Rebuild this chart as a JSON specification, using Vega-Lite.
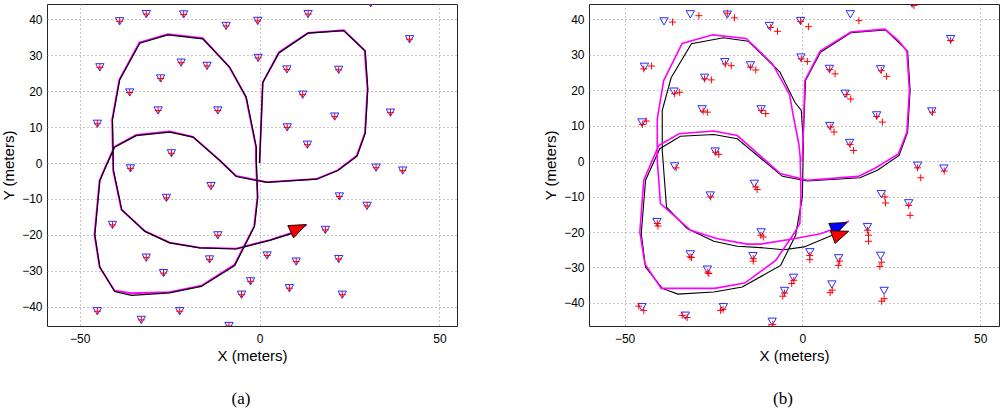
{
  "$schema": "https://vega.github.io/schema/vega-lite/v6.json",
  "background": "white",
  "padding": {"left": 1, "top": 3, "right": 0, "bottom": 0},
  "spacing": 85,
  "config": {
    "view": {"stroke": "#262626", "strokeWidth": 1},
    "axis": {
      "labelFont": "Liberation Sans", "labelFontSize": 12, "labelColor": "#000",
      "titleFont": "Liberation Sans", "titleFontSize": 15, "titleFontWeight": "normal", "titleColor": "#000",
      "grid": true, "gridDash": [1, 3], "gridColor": "#8c8c8c", "gridWidth": 1,
      "domain": false, "ticks": false
    },
    "axisX": {"labelPadding": 7, "titlePadding": 4},
    "axisY": {"labelPadding": 5, "titlePadding": 5}
  },
  "datasets": {
    "lm": [
      {"x": -38.9, "y": 39.4}, {"x": -31.5, "y": 41.4}, {"x": -21.1, "y": 41.3}, {"x": -9.3, "y": 38.1},
      {"x": -0.5, "y": 39.5}, {"x": 13.5, "y": 41.4}, {"x": 30.9, "y": 44.4}, {"x": 41.7, "y": 34.4},
      {"x": -44.4, "y": 26.6}, {"x": -21.8, "y": 27.9}, {"x": -14.6, "y": 27.0}, {"x": -0.4, "y": 29.2},
      {"x": 7.6, "y": 26.0}, {"x": 22.0, "y": 25.9}, {"x": -27.5, "y": 23.5}, {"x": -36.1, "y": 19.6},
      {"x": 12.0, "y": 19.0}, {"x": -28.2, "y": 14.6}, {"x": -11.6, "y": 14.6}, {"x": 36.4, "y": 14.0},
      {"x": 20.9, "y": 12.9}, {"x": -45.1, "y": 10.9}, {"x": 7.7, "y": 9.9}, {"x": 13.3, "y": 5.1},
      {"x": -24.5, "y": 2.7}, {"x": -35.9, "y": -1.5}, {"x": 32.4, "y": -1.3}, {"x": 39.8, "y": -2.1},
      {"x": -13.5, "y": -6.4}, {"x": -25.9, "y": -9.7}, {"x": 22.2, "y": -9.3}, {"x": 29.9, "y": -11.9},
      {"x": -40.9, "y": -17.2}, {"x": -11.6, "y": -20.1}, {"x": 18.3, "y": -18.6}, {"x": -31.5, "y": -26.3},
      {"x": -13.9, "y": -26.8}, {"x": 2.1, "y": -25.7}, {"x": 10.2, "y": -27.4}, {"x": 22.0, "y": -26.7},
      {"x": -26.7, "y": -30.6}, {"x": -2.5, "y": -32.9}, {"x": 8.3, "y": -34.8}, {"x": -5.0, "y": -36.6},
      {"x": 23.0, "y": -36.6}, {"x": -45.1, "y": -41.2}, {"x": -32.9, "y": -43.6}, {"x": -22.2, "y": -41.2},
      {"x": -8.5, "y": -45.3}
    ],
    "est_b": [
      {"x": -36.5, "y": 39.2}, {"x": -29.1, "y": 41.0}, {"x": -21.1, "y": 41.7}, {"x": -19.1, "y": 40.4},
      {"x": -8.9, "y": 37.7}, {"x": -7.0, "y": 36.6}, {"x": -0.5, "y": 39.4}, {"x": 1.7, "y": 37.9},
      {"x": 15.9, "y": 39.6}, {"x": 31.4, "y": 43.9}, {"x": 41.7, "y": 34.0},
      {"x": -44.6, "y": 26.0}, {"x": -42.4, "y": 26.8}, {"x": -21.6, "y": 27.4}, {"x": -20.0, "y": 26.9},
      {"x": -14.6, "y": 26.5}, {"x": -13.1, "y": 25.7}, {"x": -0.3, "y": 28.8}, {"x": 1.4, "y": 28.1},
      {"x": 7.7, "y": 25.8}, {"x": 9.2, "y": 24.6}, {"x": 22.2, "y": 25.5}, {"x": 23.7, "y": 23.9},
      {"x": -27.5, "y": 23.2}, {"x": -25.6, "y": 22.9}, {"x": -35.9, "y": 19.0}, {"x": -34.5, "y": 19.4},
      {"x": 12.5, "y": 18.8}, {"x": 13.6, "y": 17.5}, {"x": -27.9, "y": 14.1}, {"x": -26.7, "y": 13.8},
      {"x": -11.5, "y": 14.3}, {"x": -10.3, "y": 13.4}, {"x": 36.6, "y": 13.8}, {"x": 20.9, "y": 12.6},
      {"x": 22.5, "y": 11.0}, {"x": -45.0, "y": 10.3}, {"x": -43.9, "y": 11.3}, {"x": 8.0, "y": 9.6},
      {"x": 8.9, "y": 8.2}, {"x": 13.4, "y": 4.7}, {"x": 14.4, "y": 3.0}, {"x": -24.4, "y": 2.5},
      {"x": -23.5, "y": 1.9}, {"x": -35.5, "y": -1.9}, {"x": 32.4, "y": -1.9}, {"x": 33.3, "y": -4.7},
      {"x": 39.9, "y": -2.8}, {"x": -13.1, "y": -7.3}, {"x": -12.7, "y": -8.0}, {"x": -25.8, "y": -10.1},
      {"x": 23.2, "y": -10.1}, {"x": 23.4, "y": -11.8}, {"x": 29.9, "y": -12.5}, {"x": 30.3, "y": -15.3},
      {"x": -40.8, "y": -17.6}, {"x": -40.6, "y": -18.3}, {"x": -11.7, "y": -20.9}, {"x": -11.0, "y": -21.4},
      {"x": 18.3, "y": -19.5}, {"x": 18.6, "y": -20.9}, {"x": 18.6, "y": -22.6}, {"x": -31.6, "y": -27.0},
      {"x": -31.2, "y": -27.2}, {"x": -13.8, "y": -27.5}, {"x": -13.8, "y": -28.2}, {"x": 2.1, "y": -26.6},
      {"x": 2.1, "y": -27.8}, {"x": 10.5, "y": -28.2}, {"x": 10.1, "y": -29.4}, {"x": 22.3, "y": -28.5},
      {"x": 21.8, "y": -29.7}, {"x": -26.6, "y": -31.3}, {"x": -26.3, "y": -31.7}, {"x": -2.4, "y": -33.6},
      {"x": -3.0, "y": -34.5}, {"x": 8.4, "y": -36.4}, {"x": 7.8, "y": -37.1}, {"x": -5.0, "y": -37.2},
      {"x": -5.5, "y": -38.1}, {"x": 23.0, "y": -38.8}, {"x": 22.3, "y": -39.5}, {"x": -46.0, "y": -40.9},
      {"x": -44.6, "y": -42.1}, {"x": -33.8, "y": -43.5}, {"x": -32.4, "y": -44.1}, {"x": -22.3, "y": -41.8},
      {"x": -23.0, "y": -42.1}, {"x": -8.3, "y": -46.1}, {"x": -9.4, "y": -46.8}
    ],
    "path_a": [
      {"i": 0, "x": 0, "y": 0}, {"i": 1, "x": 0.9, "y": 22.4}, {"i": 2, "x": 5.4, "y": 30.6},
      {"i": 3, "x": 13.5, "y": 36.1}, {"i": 4, "x": 23.4, "y": 36.8}, {"i": 5, "x": 29.4, "y": 31.1},
      {"i": 6, "x": 30.1, "y": 20.6}, {"i": 7, "x": 29.4, "y": 8.3}, {"i": 8, "x": 27.1, "y": 1.9},
      {"i": 9, "x": 21.8, "y": -2.1}, {"i": 10, "x": 15.9, "y": -4.5}, {"i": 11, "x": 2.0, "y": -5.4},
      {"i": 12, "x": -6.5, "y": -3.75}, {"i": 13, "x": -11.1, "y": 0.7}, {"i": 14, "x": -18.5, "y": 7.2},
      {"i": 15, "x": -25.0, "y": 8.6}, {"i": 16, "x": -34.3, "y": 7.6}, {"i": 17, "x": -40.3, "y": 4.4},
      {"i": 18, "x": -43.0, "y": -1.6}, {"i": 19, "x": -44.4, "y": -4.9}, {"i": 20, "x": -45.8, "y": -19.9},
      {"i": 21, "x": -44.4, "y": -28.9}, {"i": 22, "x": -40.3, "y": -35.7}, {"i": 23, "x": -35.6, "y": -36.8},
      {"i": 24, "x": -25.0, "y": -36.1}, {"i": 25, "x": -16.2, "y": -34.3}, {"i": 26, "x": -6.9, "y": -28.5},
      {"i": 27, "x": -1.4, "y": -17.6}, {"i": 28, "x": -0.5, "y": -9.5}, {"i": 29, "x": -0.9, "y": 0.7},
      {"i": 30, "x": -0.9, "y": 4.4}, {"i": 31, "x": -3.7, "y": 18.3}, {"i": 32, "x": -8.3, "y": 26.6},
      {"i": 33, "x": -15.8, "y": 34.5}, {"i": 34, "x": -25.5, "y": 35.6}, {"i": 35, "x": -33.3, "y": 33.3},
      {"i": 36, "x": -38.9, "y": 23.1}, {"i": 37, "x": -40.9, "y": 12.0}, {"i": 38, "x": -40.6, "y": -2.1},
      {"i": 39, "x": -38.3, "y": -13.0}, {"i": 40, "x": -31.9, "y": -19.0}, {"i": 41, "x": -25.0, "y": -22.2},
      {"i": 42, "x": -16.7, "y": -23.6}, {"i": 43, "x": -6.5, "y": -23.9}, {"i": 44, "x": 2.8, "y": -21.5},
      {"i": 45, "x": 9.3, "y": -19.5}, {"i": 46, "x": 11.0, "y": -18.9}
    ],
    "path_a_est": [
      {"i": 0, "x": 0, "y": 0}, {"i": 1, "x": 0.9, "y": 22.4}, {"i": 2, "x": 5.4, "y": 30.8},
      {"i": 3, "x": 13.5, "y": 36.2}, {"i": 4, "x": 23.4, "y": 36.9}, {"i": 5, "x": 29.2, "y": 31.3},
      {"i": 6, "x": 30.0, "y": 20.6}, {"i": 7, "x": 29.3, "y": 8.3}, {"i": 8, "x": 27.0, "y": 2.0},
      {"i": 9, "x": 21.7, "y": -2.0}, {"i": 10, "x": 15.9, "y": -4.4}, {"i": 11, "x": 2.0, "y": -5.3},
      {"i": 12, "x": -6.5, "y": -3.6}, {"i": 13, "x": -11.1, "y": 0.8}, {"i": 14, "x": -18.5, "y": 7.3},
      {"i": 15, "x": -25.0, "y": 8.8}, {"i": 16, "x": -34.3, "y": 7.8}, {"i": 17, "x": -40.4, "y": 4.5},
      {"i": 18, "x": -43.1, "y": -1.6}, {"i": 19, "x": -44.5, "y": -4.9}, {"i": 20, "x": -45.9, "y": -19.9},
      {"i": 21, "x": -44.5, "y": -28.9}, {"i": 22, "x": -40.3, "y": -35.5}, {"i": 23, "x": -35.6, "y": -36.2},
      {"i": 24, "x": -25.0, "y": -35.9}, {"i": 25, "x": -16.2, "y": -34.1}, {"i": 26, "x": -7.0, "y": -28.3},
      {"i": 27, "x": -1.5, "y": -17.6}, {"i": 28, "x": -0.6, "y": -9.5}, {"i": 29, "x": -1.0, "y": 0.7},
      {"i": 30, "x": -1.0, "y": 4.4}, {"i": 31, "x": -3.8, "y": 18.3}, {"i": 32, "x": -8.4, "y": 26.7},
      {"i": 33, "x": -15.8, "y": 34.7}, {"i": 34, "x": -25.5, "y": 35.8}, {"i": 35, "x": -33.4, "y": 33.5},
      {"i": 36, "x": -39.0, "y": 23.1}, {"i": 37, "x": -41.0, "y": 12.0}, {"i": 38, "x": -40.7, "y": -2.1},
      {"i": 39, "x": -38.4, "y": -13.0}, {"i": 40, "x": -31.9, "y": -18.9}, {"i": 41, "x": -25.0, "y": -22.1},
      {"i": 42, "x": -16.7, "y": -23.5}, {"i": 43, "x": -6.5, "y": -23.8}, {"i": 44, "x": 2.8, "y": -21.4},
      {"i": 45, "x": 9.3, "y": -19.3}, {"i": 46, "x": 13.1, "y": -17.2}
    ],
    "path_b_true": [
      {"i": 0, "x": 0, "y": 0}, {"i": 1, "x": 0.9, "y": 22.7}, {"i": 2, "x": 5.1, "y": 30.7},
      {"i": 3, "x": 13.6, "y": 36.2}, {"i": 4, "x": 23.4, "y": 37.0}, {"i": 5, "x": 29.6, "y": 31.0},
      {"i": 6, "x": 30.3, "y": 19.9}, {"i": 7, "x": 29.6, "y": 8.2}, {"i": 8, "x": 27.2, "y": 1.6},
      {"i": 9, "x": 21.1, "y": -2.6}, {"i": 10, "x": 16.2, "y": -4.7}, {"i": 11, "x": 1.4, "y": -5.6},
      {"i": 12, "x": -5.6, "y": -4.3}, {"i": 13, "x": -18.3, "y": 6.3}, {"i": 14, "x": -24.9, "y": 7.5},
      {"i": 15, "x": -34.3, "y": 7.0}, {"i": 16, "x": -40.1, "y": 3.5}, {"i": 17, "x": -44.1, "y": -5.4},
      {"i": 18, "x": -45.3, "y": -20.5}, {"i": 19, "x": -44.1, "y": -29.9}, {"i": 20, "x": -39.4, "y": -35.9},
      {"i": 21, "x": -35.0, "y": -37.5}, {"i": 22, "x": -24.9, "y": -36.9}, {"i": 23, "x": -16.9, "y": -35.5},
      {"i": 24, "x": -6.1, "y": -29.4}, {"i": 25, "x": -1.9, "y": -20.9}, {"i": 26, "x": 0.0, "y": -10.1},
      {"i": 27, "x": 0.3, "y": 4.9}, {"i": 28, "x": -0.3, "y": 14.3}, {"i": 29, "x": -2.1, "y": 16.6},
      {"i": 30, "x": -6.3, "y": 25.1}, {"i": 31, "x": -15.2, "y": 33.8}, {"i": 32, "x": -22.2, "y": 34.8},
      {"i": 33, "x": -31.2, "y": 33.1}, {"i": 34, "x": -36.9, "y": 23.5}, {"i": 35, "x": -39.4, "y": 14.3},
      {"i": 36, "x": -39.4, "y": 3.0}, {"i": 37, "x": -38.2, "y": -13.0}, {"i": 38, "x": -32.4, "y": -19.0},
      {"i": 39, "x": -24.9, "y": -22.6}, {"i": 40, "x": -18.3, "y": -24.0}, {"i": 41, "x": -11.7, "y": -24.4},
      {"i": 42, "x": -5.2, "y": -25.0}, {"i": 43, "x": 0.5, "y": -24.2}, {"i": 44, "x": 8.4, "y": -20.9},
      {"i": 45, "x": 11.0, "y": -20.2}
    ],
    "path_b_est": [
      {"i": 0, "x": 0, "y": 0}, {"i": 1, "x": 0.7, "y": 22.7}, {"i": 2, "x": 5.0, "y": 31.0},
      {"i": 3, "x": 13.6, "y": 36.4}, {"i": 4, "x": 23.2, "y": 37.2}, {"i": 5, "x": 27.0, "y": 34.0},
      {"i": 6, "x": 29.4, "y": 31.0}, {"i": 7, "x": 30.1, "y": 19.9}, {"i": 8, "x": 29.4, "y": 8.2},
      {"i": 9, "x": 27.0, "y": 2.0}, {"i": 10, "x": 20.3, "y": -2.1}, {"i": 11, "x": 15.7, "y": -4.3},
      {"i": 12, "x": 1.4, "y": -5.4}, {"i": 13, "x": -6.2, "y": -3.5}, {"i": 14, "x": -18.3, "y": 7.2},
      {"i": 15, "x": -24.9, "y": 8.5}, {"i": 16, "x": -34.7, "y": 7.7}, {"i": 17, "x": -40.4, "y": 4.4},
      {"i": 18, "x": -44.6, "y": -5.4}, {"i": 19, "x": -45.7, "y": -20.0}, {"i": 20, "x": -44.3, "y": -28.9},
      {"i": 21, "x": -39.7, "y": -35.9}, {"i": 22, "x": -24.7, "y": -35.9}, {"i": 23, "x": -16.2, "y": -34.4},
      {"i": 24, "x": -7.5, "y": -28.0}, {"i": 25, "x": -2.4, "y": -20.5}, {"i": 26, "x": -0.7, "y": -17.6},
      {"i": 27, "x": -0.4, "y": -9.0}, {"i": 28, "x": -0.6, "y": 1.0}, {"i": 29, "x": -1.0, "y": 4.9},
      {"i": 30, "x": -2.6, "y": 13.0}, {"i": 31, "x": -3.6, "y": 18.8}, {"i": 32, "x": -8.4, "y": 27.4},
      {"i": 33, "x": -15.8, "y": 34.6}, {"i": 34, "x": -25.2, "y": 35.6}, {"i": 35, "x": -33.8, "y": 33.2},
      {"i": 36, "x": -39.0, "y": 22.7}, {"i": 37, "x": -40.8, "y": 11.9}, {"i": 38, "x": -40.8, "y": 0.2},
      {"i": 39, "x": -39.9, "y": -12.0}, {"i": 40, "x": -31.4, "y": -19.5}, {"i": 41, "x": -23.9, "y": -21.9},
      {"i": 42, "x": -15.5, "y": -23.4}, {"i": 43, "x": -11.7, "y": -23.4}, {"i": 44, "x": -2.4, "y": -21.9},
      {"i": 45, "x": 5.1, "y": -20.5}, {"i": 46, "x": 8.4, "y": -19.3}, {"i": 47, "x": 13.1, "y": -16.9}
    ],
    "arrows": [
      {"panel": "a", "kind": "true", "x": 10.8, "y": -18.1},
      {"panel": "b", "kind": "est", "x": 10.4, "y": -18.3},
      {"panel": "b", "kind": "true", "x": 10.8, "y": -20.6}
    ]
  },
  "hconcat": [
    {
      "width": 410,
      "height": 322,
      "title": {"text": "(a)", "orient": "bottom", "anchor": "middle", "frame": "group", "font": "Liberation Serif", "fontSize": 17, "fontWeight": "normal", "color": "#000", "offset": 28, "dx": -11},
      "encoding": {
        "x": {"field": "x", "type": "quantitative", "scale": {"domain": [-59.1, 54.9], "nice": false, "zero": false}, "axis": {"values": [-50, 0, 50], "title": "X (meters)"}},
        "y": {"field": "y", "type": "quantitative", "scale": {"domain": [-45.3, 44.2], "nice": false, "zero": false}, "axis": {"values": [-40, -30, -20, -10, 0, 10, 20, 30, 40], "title": "Y (meters)"}}
      },
      "layer": [
        {"data": {"name": "lm"}, "mark": {"type": "point", "shape": "triangle-down", "filled": false, "stroke": "#2b2bff", "strokeWidth": 1, "size": 70, "opacity": 1, "clip": true}},
        {"data": {"name": "lm"}, "mark": {"type": "point", "shape": "M-1,0L1,0M0,-1L0,1", "filled": false, "stroke": "#ff0000", "strokeWidth": 1, "size": 49, "opacity": 1, "clip": true}},
        {"data": {"name": "path_a_est"}, "mark": {"type": "line", "color": "#ff00ff", "strokeWidth": 1.8, "clip": true}, "encoding": {"order": {"field": "i", "type": "quantitative"}}},
        {"data": {"name": "path_a"}, "mark": {"type": "line", "color": "#000000", "strokeWidth": 1.2, "clip": true}, "encoding": {"order": {"field": "i", "type": "quantitative"}}},
        {"data": {"name": "arrows"}, "transform": [{"filter": "datum.panel == 'a'"}], "mark": {"type": "point", "shape": "M1,0L-1,-0.8L-1,0.8Z", "filled": true, "fill": "#ff0000", "stroke": "#000000", "strokeWidth": 0.8, "size": 289, "angle": 335, "opacity": 1, "clip": true}}
      ]
    },
    {
      "width": 410,
      "height": 322,
      "title": {"text": "(b)", "orient": "bottom", "anchor": "middle", "frame": "group", "font": "Liberation Serif", "fontSize": 17, "fontWeight": "normal", "color": "#000", "offset": 28, "dx": -11},
      "encoding": {
        "x": {"field": "x", "type": "quantitative", "scale": {"domain": [-60.0, 55.3], "nice": false, "zero": false}, "axis": {"values": [-50, 0, 50], "title": "X (meters)"}},
        "y": {"field": "y", "type": "quantitative", "scale": {"domain": [-46.5, 44.3], "nice": false, "zero": false}, "axis": {"values": [-40, -30, -20, -10, 0, 10, 20, 30, 40], "title": "Y (meters)"}}
      },
      "layer": [
        {"data": {"name": "lm"}, "mark": {"type": "point", "shape": "triangle-down", "filled": false, "stroke": "#2b2bff", "strokeWidth": 1, "size": 70, "opacity": 1, "clip": true}},
        {"data": {"name": "est_b"}, "mark": {"type": "point", "shape": "M-1,0L1,0M0,-1L0,1", "filled": false, "stroke": "#ff0000", "strokeWidth": 1, "size": 49, "opacity": 1, "clip": true}},
        {"data": {"name": "path_b_true"}, "mark": {"type": "line", "color": "#000000", "strokeWidth": 1.1, "clip": true}, "encoding": {"order": {"field": "i", "type": "quantitative"}}},
        {"data": {"name": "path_b_est"}, "mark": {"type": "line", "color": "#ff00ff", "strokeWidth": 1.6, "clip": true}, "encoding": {"order": {"field": "i", "type": "quantitative"}}},
        {"data": {"name": "arrows"}, "transform": [{"filter": "datum.panel == 'b' && datum.kind == 'est'"}], "mark": {"type": "point", "shape": "M1,0L-1,-0.8L-1,0.8Z", "filled": true, "fill": "#0000ff", "stroke": "#000000", "strokeWidth": 0.8, "size": 289, "angle": 335, "opacity": 1, "clip": true}},
        {"data": {"name": "arrows"}, "transform": [{"filter": "datum.panel == 'b' && datum.kind == 'true'"}], "mark": {"type": "point", "shape": "M1,0L-1,-0.8L-1,0.8Z", "filled": true, "fill": "#ff0000", "stroke": "#000000", "strokeWidth": 0.8, "size": 289, "angle": 340, "opacity": 1, "clip": true}}
      ]
    }
  ]
}
